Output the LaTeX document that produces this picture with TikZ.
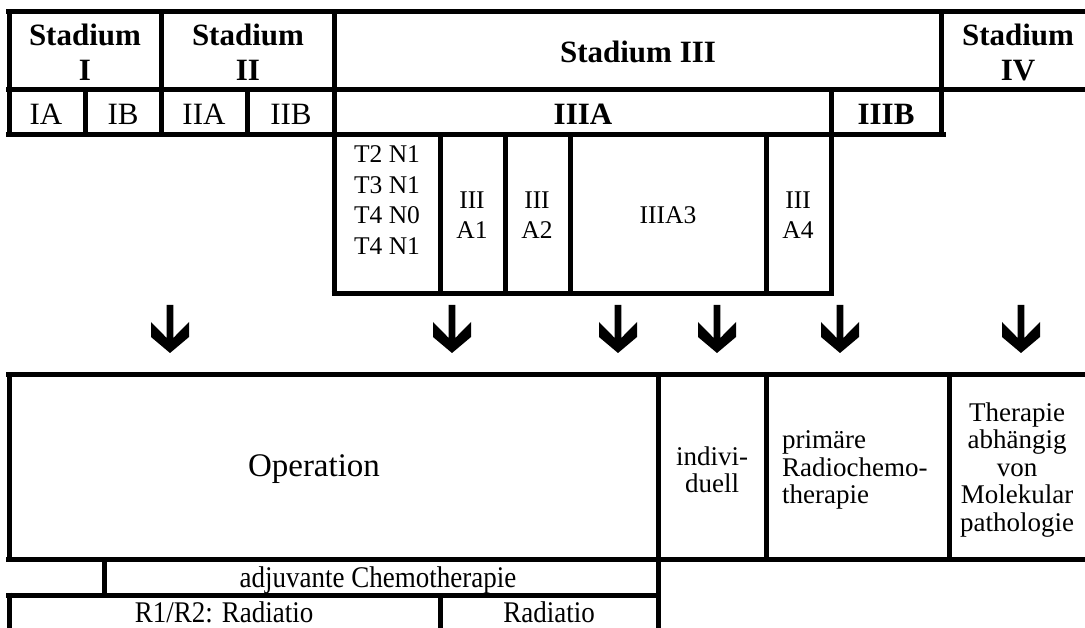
\documentclass[tikz,border=0pt]{standalone}
\usepackage{fontspec}
\setmainfont{Liberation Serif}
\newfontfamily\narrowserif[FakeStretch=0.9]{Liberation Serif}
\begin{document}
\begin{tikzpicture}[x=1pt,y=-1pt,
  rule/.style={line width=5pt},
  hd/.style={font=\fontsize{31}{35}\selectfont\bfseries, align=center, inner sep=0pt},
  subc/.style={font=\fontsize{31}{33}\selectfont, inner sep=0pt, anchor=base},
  subb/.style={font=\fontsize{31}{33}\selectfont\bfseries, inner sep=0pt, anchor=base},
  tn/.style={font=\fontsize{25.5}{30.5}\selectfont, align=center, inner sep=0pt},
  opn/.style={font=\fontsize{33}{36}\selectfont, inner sep=0pt, anchor=base},
  bt/.style={font=\narrowserif\fontsize{30}{33}\selectfont, inner sep=0pt, anchor=base},
  rt/.style={font=\fontsize{27}{27.5}\selectfont, inner sep=0pt},
  arrowfill/.style={fill=black}
]
\useasboundingbox (0,0) rectangle (1085,628);
% ---------- top table ----------
\draw[rule] (6,12) -- (1085,12);
\draw[rule] (6,90) -- (1085,90);
\draw[rule] (6,135) -- (946,135);
\draw[rule] (9,9.5) -- (9,137.5);
\draw[rule] (161,12) -- (161,135);
\draw[rule] (85,90) -- (85,135);
\draw[rule] (247,90) -- (247,135);
\draw[rule] (334,12) -- (334,296.5);
\draw[rule] (941,12) -- (941,135);
\draw[rule] (831,90) -- (831,296.5);
% sub table
\draw[rule] (331.5,294) -- (833.5,294);
\draw[rule] (440,135) -- (440,294);
\draw[rule] (505,135) -- (505,294);
\draw[rule] (570,135) -- (570,294);
\draw[rule] (766,135) -- (766,294);
% ---------- bottom table ----------
\draw[rule] (6,375) -- (1085,375);
\draw[rule] (6,559) -- (1085,559);
\draw[rule] (6,595) -- (660.5,595);
\draw[rule] (9,375) -- (9,561.5);
\draw[rule] (9,592.5) -- (9,628);
\draw[rule] (104,559) -- (104,595);
\draw[rule] (658,375) -- (658,628);
\draw[rule] (440,595) -- (440,628);
\draw[rule] (766,375) -- (766,559);
\draw[rule] (949,375) -- (949,559);
% ---------- headings ----------
\node[hd] (s1) at (85,52) {Stadium\\I};
\node[hd] (s2) at (248,52) {Stadium\\II};
\node[hd, anchor=base] (s3) at (638,63) {Stadium III};
\node[hd] (s4) at (1018,52) {Stadium\\IV};
\node[subc] (ia) at (46,125) {IA};
\node[subc] (ib) at (123,125) {IB};
\node[subc] (iia) at (204,125) {IIA};
\node[subc] (iib) at (291,125) {IIB};
\node[subb] (iiia) at (583,125) {IIIA};
\node[subb] (iiib) at (886,125) {IIIB};
% sub table texts
\node[tn] (tn) at (387,200) {T2 N1\\T3 N1\\T4 N0\\T4 N1};
\node[tn] (a1) at (472,215) {III\\A1};
\node[tn] (a2) at (537,215) {III\\A2};
\node[tn, anchor=base] (a3) at (668,224) {IIIA3};
\node[tn] (a4) at (798,215) {III\\A4};
% ---------- arrows (shaft + notched head, from p to q) ----------
\foreach \i/\x in {1/170,2/452,3/618,4/717,5/840,6/1021}{
  \coordinate (p\i) at (\x,305);
  \coordinate (q\i) at (\x,353);
  \fill[arrowfill] (q\i) -- ++(-19,-16) -- ++(0,-15) -- ++(15.7,16)
    |- (p\i) -- ++(3.3,0) -- ++(0,33) -- ++(15.7,-16) -- ++(0,15) -- cycle;
}
% ---------- bottom texts ----------
\node[opn] (op) at (314,476) {Operation};
\node[bt] (adj) at (378,587) {adjuvante Chemotherapie};
\node[bt] (r12) at (224,622) {R1/R2: Radiatio};
\node[bt] (rad) at (549,622) {Radiatio};
\node[rt, align=center] (ind) at (712,470) {indivi-\\duell};
\node[rt, align=left, anchor=west] (prim) at (782,470) {primäre\\Radiochemo-\\therapie};
\node[rt, align=center] (thp) at (1017,470) {Therapie\\abhängig\\von\\Molekular\\pathologie};
\end{tikzpicture}
\end{document}
